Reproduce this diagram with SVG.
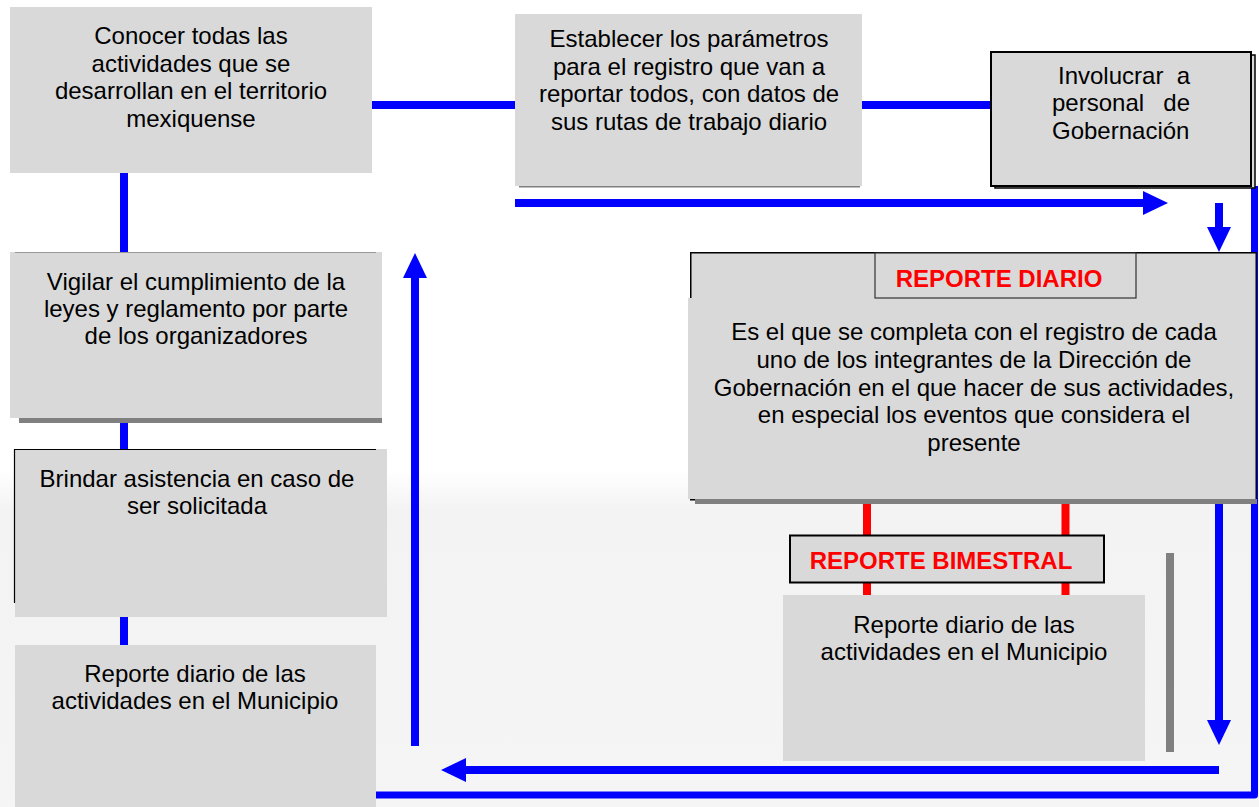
<svg xmlns="http://www.w3.org/2000/svg" width="1259" height="807" viewBox="0 0 1259 807">
<style>
.box{fill:#d9d9d9}
.t{font-family:"Liberation Sans",Arial,Helvetica,sans-serif;font-size:24px;fill:#000;text-anchor:middle}
.red{fill:#ff0000;font-weight:bold}
.blue{stroke:#0000ff;stroke-width:8;fill:none}
.loop{stroke:#0000ff;stroke-width:7;fill:none;stroke-linejoin:round}
.redl{stroke:#ff0000;stroke-width:8;fill:none}
.shadow{fill:#808080}
</style>
<defs>
<marker id="ah" markerUnits="userSpaceOnUse" markerWidth="26" markerHeight="24" refX="1" refY="12" orient="auto">
<path d="M0,0 L25,12 L0,24 Z" fill="#0000ff"/>
</marker>
<linearGradient id="bg" x1="0" y1="0" x2="0" y2="1">
<stop offset="0" stop-color="#ffffff"/>
<stop offset="0.12" stop-color="#f3f3f3"/>
<stop offset="1" stop-color="#f5f5f5"/>
</linearGradient>
</defs>
<rect x="0" y="0" width="1259" height="807" fill="#ffffff"/>
<rect x="0" y="470" width="1259" height="337" fill="url(#bg)"/>

<g id="connectors">
<path class="blue" d="M372,105 H992"/>
<path class="blue" d="M124,172 V645"/>
<path class="loop" d="M1254.5,186 V795 H376"/>
<path class="blue" d="M515,203 H1144" marker-end="url(#ah)"/>
<path class="blue" d="M1219,203 V228" marker-end="url(#ah)"/>
<path class="blue" d="M1219,500 V721" marker-end="url(#ah)"/>
<path class="blue" d="M1219,770 H465" marker-end="url(#ah)"/>
<path class="blue" d="M415,746 V277" marker-end="url(#ah)"/>
<path class="redl" d="M867,500 V595"/>
<path class="redl" d="M1065.5,500 V595"/>
</g>

<g id="conocer">
<rect class="box" x="10" y="7" width="362" height="166"/>
<text class="t" x="191" y="44">Conocer todas las</text>
<text class="t" x="191" y="72">actividades que se</text>
<text class="t" x="191" y="99">desarrollan en el territorio</text>
<text class="t" x="191" y="127">mexiquense</text>
</g>

<g id="establecer">
<rect class="shadow" x="519" y="185" width="341" height="2.5"/>
<rect class="box" x="515" y="14" width="347" height="172"/>
<text class="t" x="689" y="47">Establecer los parámetros</text>
<text class="t" x="689" y="75">para el registro que van a</text>
<text class="t" x="689" y="102">reportar todos, con datos de</text>
<text class="t" x="689" y="130">sus rutas de trabajo diario</text>
</g>

<g id="involucrar">
<rect x="995" y="55" width="260" height="133" fill="#d9d9d9" stroke="#000" stroke-width="1.5"/>
<rect class="box" x="991" y="52" width="260" height="134" stroke="#000" stroke-width="2"/>
<text class="t" style="text-anchor:start"><tspan x="1058" y="84">Involucrar</tspan><tspan x="1190" y="84" style="text-anchor:end">a</tspan></text>
<text class="t" style="text-anchor:start"><tspan x="1052" y="111">personal</tspan><tspan x="1190" y="111" style="text-anchor:end">de</tspan></text>
<text class="t" style="text-anchor:start" x="1052" y="139">Gobernación</text>
</g>

<g id="reporte-diario">
<rect x="690.75" y="252.75" width="565.5" height="247" fill="#d9d9d9" stroke="#000" stroke-width="1.5"/>
<rect class="shadow" x="695" y="499" width="562" height="5"/>
<rect class="box" x="688" y="298" width="561" height="201"/>
<rect x="875" y="253" width="261" height="45" fill="#d9d9d9" stroke="#333" stroke-width="1.2"/>
<text class="t red" x="999" y="287">REPORTE DIARIO</text>
<text class="t" x="974" y="340">Es el que se completa con el registro de cada</text>
<text class="t" x="974" y="368">uno de los integrantes de la Dirección de</text>
<text class="t" x="974" y="396">Gobernación en el que hacer de sus actividades,</text>
<text class="t" x="974" y="423">en especial los eventos que considera el</text>
<text class="t" x="974" y="451">presente</text>
</g>

<g id="reporte-bimestral">
<rect x="790" y="535.5" width="314" height="47" fill="#d9d9d9" stroke="#000" stroke-width="2"/>
<text class="t red" x="941" y="569">REPORTE BIMESTRAL</text>
</g>

<g id="reporte-municipio-derecha">
<rect class="box" x="783" y="595" width="362" height="166"/>
<text class="t" x="964" y="633">Reporte diario de las</text>
<text class="t" x="964" y="660">actividades en el Municipio</text>
</g>

<g id="barra">
<rect class="shadow" x="1166" y="553" width="8" height="199"/>
</g>

<g id="vigilar">
<rect class="shadow" x="19" y="418" width="363" height="5"/>
<rect class="box" x="10" y="252" width="372" height="166"/>
<line x1="15" y1="252.5" x2="376" y2="252.5" stroke="#999" stroke-width="1"/>
<text class="t" x="196" y="290">Vigilar el cumplimiento de la</text>
<text class="t" x="196" y="317">leyes y reglamento por parte</text>
<text class="t" x="196" y="344">de los organizadores</text>
</g>

<g id="brindar">
<rect class="box" x="15" y="449" width="372" height="168"/>
<path d="M14.5,603 V449.5 H376" fill="none" stroke="#000" stroke-width="1.2"/>
<text class="t" x="197" y="487">Brindar asistencia en caso de</text>
<text class="t" x="197" y="514">ser solicitada</text>
</g>

<g id="reporte-municipio-izquierda">
<rect class="box" x="15" y="645" width="361" height="162"/>
<text class="t" x="195" y="682">Reporte diario de las</text>
<text class="t" x="195" y="709">actividades en el Municipio</text>
</g>
</svg>
